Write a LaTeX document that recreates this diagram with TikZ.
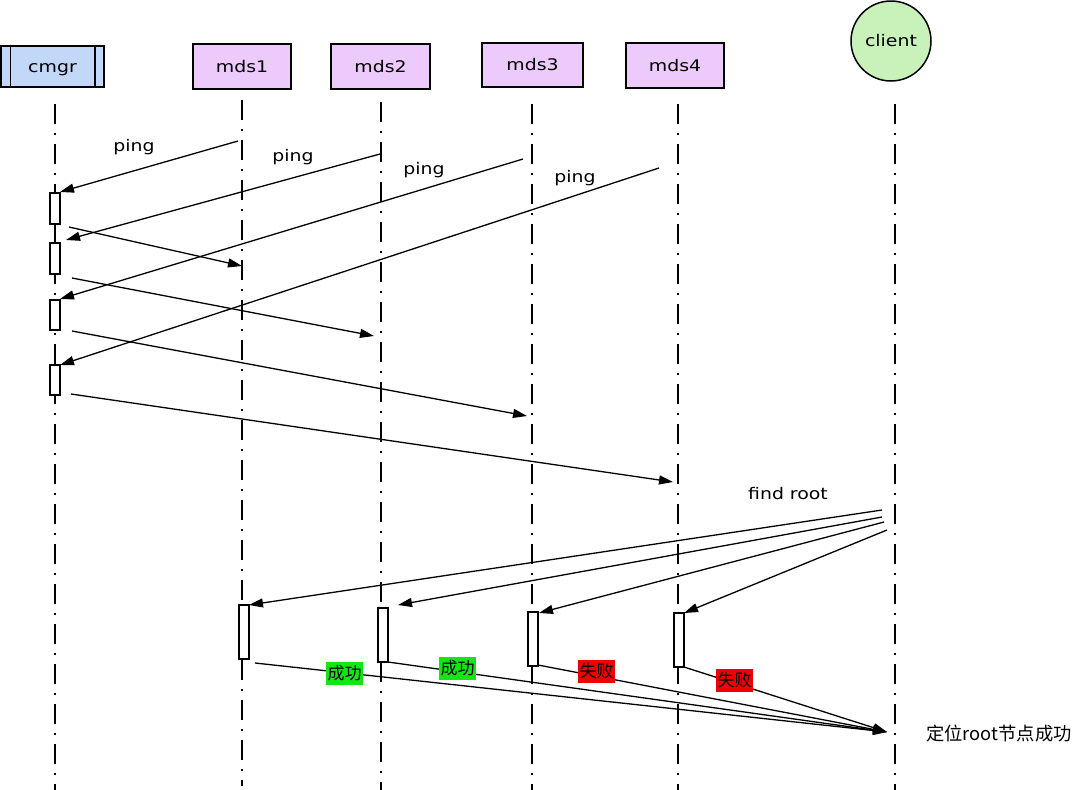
\documentclass[tikz,border=0pt]{standalone}
\usepackage{fontspec}
\setmainfont{DejaVu Sans}[FakeStretch=1.18]
\newfontfamily\cjk{Noto Sans CJK SC}
\usetikzlibrary{arrows.meta}
\definecolor{cmgrfill}{HTML}{C3D7F8}
\definecolor{mdsfill}{HTML}{ECCAFB}
\definecolor{clientfill}{HTML}{C8F2BA}
\definecolor{okgreen}{HTML}{14E614}
\definecolor{badred}{HTML}{F00000}
\begin{document}
\begin{tikzpicture}[x=1pt,y=-1pt,
  lifeline/.style={line width=1.6pt, dash pattern=on 20pt off 9pt on 2pt off 9pt},
  msg/.style={line width=1.3pt, -{Triangle[length=14pt,width=9pt]}},
  act/.style={draw, fill=white, line width=1.5pt, minimum width=10pt, inner sep=0pt},
  objbox/.style={draw, line width=1.5pt, fill=mdsfill, font=\fontsize{16}{18}\selectfont, inner sep=0pt, text height=11.5pt, text depth=0pt},
  lbl/.style={font=\fontsize{16}{18}\selectfont, inner sep=0pt},
  okbox/.style={fill=okgreen, inner sep=0pt, minimum width=37pt, minimum height=23pt, font=\cjk\fontsize{17}{18}\selectfont},
  badbox/.style={okbox, fill=badred}
]
\useasboundingbox (0,0) rectangle (1074,790);

% objects
\node[objbox, fill=cmgrfill, minimum width=103pt, minimum height=41pt] (cmgr) at (52.5,66.5) {cmgr};
\draw[line width=1.5pt] ([xshift=10pt]cmgr.north west) -- ([xshift=10pt]cmgr.south west);
\draw[line width=1.5pt] ([xshift=-10pt]cmgr.north east) -- ([xshift=-10pt]cmgr.south east);
\node[objbox, minimum width=98pt, minimum height=45pt] (mds1) at (242,66.5) {mds1};
\node[objbox, minimum width=99pt, minimum height=45pt] (mds2) at (380.5,66.5) {mds2};
\node[objbox, minimum width=101pt, minimum height=44pt] (mds3) at (532.5,65) {mds3};
\node[objbox, minimum width=98pt, minimum height=45pt] (mds4) at (675,65.5) {mds4};
\node[objbox, circle, fill=clientfill, minimum size=80pt] (client) at (891,41) {client};

% lifelines
\coordinate (Lc0) at (55,104);  \coordinate (Lc1) at (55,790);
\coordinate (L10) at (242,100); \coordinate (L11) at (242,786);
\coordinate (L20) at (381,102); \coordinate (L21) at (381,790);
\coordinate (L30) at (532,104); \coordinate (L31) at (532,790);
\coordinate (L40) at (678,104); \coordinate (L41) at (678,790);
\coordinate (Lk0) at (895,104); \coordinate (Lk1) at (895,790);
\foreach \a/\b in {Lc0/Lc1,L10/L11,L20/L21,L30/L31,L40/L41,Lk0/Lk1}
  \draw[lifeline] (\a) -- (\b);

% activation boxes on cmgr
\node[act, minimum height=31pt] (ca1) at (55,208.5) {};
\node[act, minimum height=31pt] (ca2) at (55,258.5) {};
\node[act, minimum height=30pt] (ca3) at (55,315) {};
\node[act, minimum height=30pt] (ca4) at (55,380) {};

% activation boxes on mds
\node[act, minimum height=54pt] (ma1) at (244,632) {};
\node[act, minimum height=54pt] (ma2) at (383,635) {};
\node[act, minimum height=54pt] (ma3) at (533,639) {};
\node[act, minimum height=54pt] (ma4) at (679,640) {};

% ping messages
\coordinate (p1s) at (238,141); \coordinate (p1e) at (60,192);
\coordinate (p2s) at (380,154); \coordinate (p2e) at (66,240);
\coordinate (p3s) at (523,159); \coordinate (p3e) at (60,299);
\coordinate (p4s) at (659,168); \coordinate (p4e) at (60,365);
\draw[msg] (p1s) -- (p1e);
\draw[msg] (p2s) -- (p2e);
\draw[msg] (p3s) -- (p3e);
\draw[msg] (p4s) -- (p4e);
\node[lbl] (t1) at (134,147) {ping};
\node[lbl] (t2) at (293,157) {ping};
\node[lbl] (t3) at (424,170) {ping};
\node[lbl] (t4) at (575,178) {ping};

% replies from cmgr
\coordinate (r1s) at (69,227);  \coordinate (r1e) at (242,266);
\coordinate (r2s) at (72,278);  \coordinate (r2e) at (374,336);
\coordinate (r3s) at (72,331);  \coordinate (r3e) at (527,416);
\coordinate (r4s) at (71,394);  \coordinate (r4e) at (673,482);
\draw[msg] (r1s) -- (r1e);
\draw[msg] (r2s) -- (r2e);
\draw[msg] (r3s) -- (r3e);
\draw[msg] (r4s) -- (r4e);

% find root
\coordinate (f1s) at (882,510); \coordinate (f1e) at (249,605);
\coordinate (f2s) at (882,517); \coordinate (f2e) at (398,605);
\coordinate (f3s) at (884,522); \coordinate (f3e) at (539,613);
\coordinate (f4s) at (887,530); \coordinate (f4e) at (684,613);
\draw[msg] (f1s) -- (f1e);
\draw[msg] (f2s) -- (f2e);
\draw[msg] (f3s) -- (f3e);
\draw[msg] (f4s) -- (f4e);
\node[lbl] (tf) at (788,494) {find root};

% results
\coordinate (end) at (887,732);
\coordinate (s1) at (255,663);
\coordinate (s2) at (388,662);
\coordinate (s3) at (538,665);
\coordinate (s4) at (684,667);
\draw[msg] (s1) -- (end);
\draw[msg] (s2) -- (end);
\draw[msg] (s3) -- (end);
\draw[msg] (s4) -- (end);
\node[okbox] (o1) at (344.5,673.5) {成功};
\node[okbox] (o2) at (457.5,668) {成功};
\node[badbox] (b3) at (596.5,671.5) {失败};
\node[badbox] (b4) at (734.5,680) {失败};
\node[font=\cjk\fontsize{18.3}{20}\selectfont, inner sep=0pt] (res) at (999,734) {定位root节点成功};
\end{tikzpicture}
\end{document}
